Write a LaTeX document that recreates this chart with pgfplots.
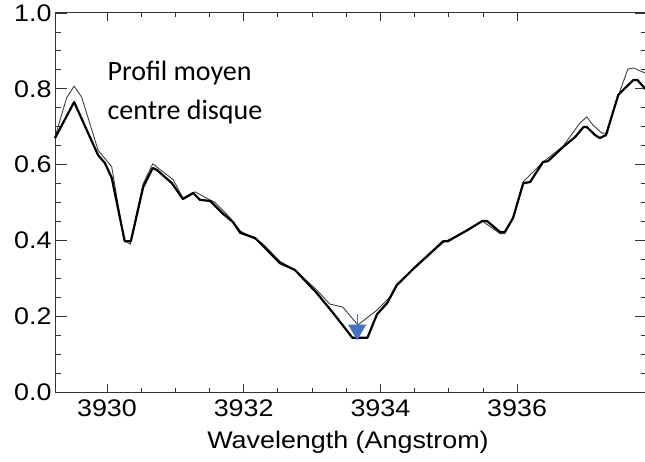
\documentclass[border=0pt]{standalone}
\usepackage{fontspec}
\setmainfont[FakeStretch=1.12]{Liberation Sans}
\newfontfamily\calibri{Carlito}
\usepackage{pgfplots}
\pgfplotsset{compat=1.18}
\definecolor{idlblue}{HTML}{4472C4}

% mean profile (thick) and single profile (thin)
\pgfplotstableread{
lam v
3929.24 0.670
3929.52 0.765
3929.87 0.625
3929.97 0.604
3930.07 0.565
3930.26 0.398
3930.35 0.398
3930.53 0.541
3930.67 0.591
3930.73 0.586
3930.95 0.551
3931.11 0.509
3931.26 0.525
3931.36 0.507
3931.51 0.504
3931.70 0.470
3931.84 0.449
3931.95 0.420
3932.17 0.406
3932.27 0.388
3932.53 0.340
3932.75 0.322
3933.07 0.261
3933.31 0.208
3933.48 0.169
3933.59 0.143
3933.81 0.143
3933.95 0.205
3934.10 0.235
3934.24 0.282
3934.51 0.330
3934.62 0.348
3934.92 0.398
3934.99 0.398
3935.27 0.427
3935.49 0.451
3935.56 0.451
3935.75 0.422
3935.82 0.422
3935.94 0.459
3936.09 0.551
3936.19 0.554
3936.38 0.607
3936.45 0.609
3936.67 0.646
3936.85 0.673
3936.97 0.699
3937.02 0.699
3937.14 0.678
3937.21 0.670
3937.30 0.678
3937.39 0.731
3937.48 0.784
3937.58 0.802
3937.70 0.823
3937.76 0.823
3937.90 0.795
}\meanprof

\pgfplotstableread{
lam v
3929.24 0.672
3929.41 0.776
3929.52 0.807
3929.63 0.778
3929.87 0.638
3930.07 0.594
3930.25 0.400
3930.34 0.390
3930.53 0.550
3930.67 0.602
3930.97 0.560
3931.11 0.512
3931.29 0.528
3931.40 0.517
3931.58 0.500
3931.80 0.460
3931.95 0.425
3932.27 0.393
3932.53 0.345
3932.75 0.322
3933.07 0.269
3933.26 0.232
3933.45 0.224
3933.67 0.177
3933.95 0.216
3934.14 0.251
3934.24 0.285
3934.51 0.328
3934.92 0.395
3935.27 0.425
3935.49 0.451
3935.75 0.418
3935.82 0.418
3935.94 0.459
3936.09 0.555
3936.38 0.607
3936.67 0.648
3936.92 0.710
3937.02 0.726
3937.11 0.704
3937.24 0.683
3937.32 0.683
3937.41 0.744
3937.51 0.797
3937.62 0.852
3937.70 0.855
3937.84 0.844
3937.90 0.840
}\oneprof

\begin{document}
\begin{tikzpicture}
\begin{axis}[
    at={(55pt,69pt)}, anchor=south west,
    width=592pt, height=379pt, scale only axis,
    xmin=3929.24, xmax=3937.9,
    ymin=0, ymax=1,
    xtick={3930,3932,3934,3936},
    ytick={0,0.2,0.4,0.6,0.8,1.0},
    minor x tick num=3,
    minor y tick num=3,
    tick pos=both,
    tick align=inside,
    xtick style={/pgfplots/major tick length=7.6pt,/pgfplots/minor tick length=3.8pt,line width=0.8pt,black!80},
    ytick style={/pgfplots/major tick length=11.8pt,/pgfplots/minor tick length=5.9pt,line width=0.8pt,black!80},
    axis line style={line width=1pt,black!80},
    font=\fontsize{24}{28}\selectfont,
    /pgf/number format/assume math mode=true,
    x tick label style={/pgf/number format/set thousands separator={},yshift=-4pt},
    y tick label style={/pgf/number format/fixed,/pgf/number format/fixed zerofill,/pgf/number format/precision=1},
    xlabel={Wavelength (Angstrom)},
    xlabel style={at={(axis description cs:0.495,0)},anchor=base,yshift=-56pt},
    clip=false,
]
\addplot[black!75, line width=0.9pt] table[x=lam,y=v] {\oneprof};
\addplot[black, line width=2.2pt, line join=round] table[x=lam,y=v] {\meanprof};
\addplot[idlblue, line width=1.3pt] coordinates {(3933.66,0.205) (3933.66,0.175)};
\addplot[idlblue, only marks, mark=triangle*, mark size=10pt, mark options={rotate=180, fill=idlblue, draw=idlblue}] coordinates {(3933.66,0.164)};
\end{axis}
\node[anchor=base west, font=\calibri\fontsize{28}{34}\selectfont] at (104pt,380pt) {Profil moyen};
\node[anchor=base west, font=\calibri\fontsize{28}{34}\selectfont] at (104pt,341pt) {centre disque};
\pgfresetboundingbox
\useasboundingbox (0,0) rectangle (645pt,461pt);
\end{tikzpicture}
\end{document}
